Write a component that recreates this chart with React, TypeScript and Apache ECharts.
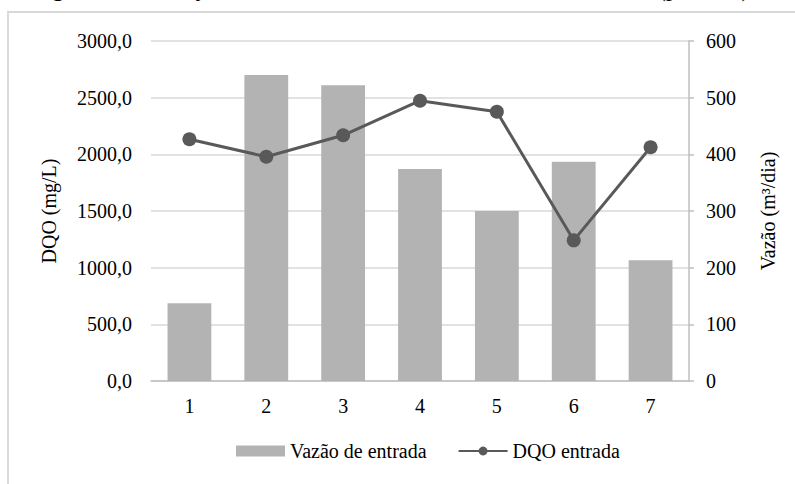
import React, { useEffect, useRef } from "react";
import * as echarts from "echarts";

// Sampling points along the system
const categories = ["1", "2", "3", "4", "5", "6", "7"];
// Inflow rate (m³/dia), right axis
const vazaoEntrada = [137, 540, 522, 374, 300, 387, 213];
// Inflow COD (mg/L), left axis
const dqoEntrada = [2133, 1979, 2168, 2473, 2376, 1241, 2062];

const captionText = "Figura 5 – Variação da vazão e da DQO de entrada no sistema (ponto 1)";
const FONT = "Liberation Serif";

export default function App() {
  const ref = useRef<HTMLDivElement>(null);

  useEffect(() => {
    if (!ref.current) return;
    const chart = echarts.init(ref.current, undefined, { renderer: "svg" });
    const textStyle = { fontFamily: FONT, fontSize: 20, color: "#000" };

    chart.setOption({
      animation: false,
      backgroundColor: "#fff",
      textStyle,
      graphic: [
        {
          type: "rect",
          silent: true,
          shape: { x: 8, y: 12, width: 900, height: 600 },
          style: { fill: "none", stroke: "#d9d9d9", lineWidth: 2 },
        },
        {
          type: "text",
          silent: true,
          x: 31,
          y: -12.5,
          style: {
            text: captionText,
            fontFamily: FONT,
            fontSize: 25,
            fill: "#000",
            verticalAlign: "middle",
          },
        },
      ],
      grid: { left: 151, right: 106, top: 41, bottom: 103, containLabel: false },
      legend: {
        left: 236,
        top: 441,
        padding: 0,
        itemWidth: 49,
        itemHeight: 11,
        itemGap: 31,
        textStyle: { ...textStyle },
        data: [
          { name: "Vazão de entrada", icon: "rect" },
          { name: "DQO entrada" },
        ],
      },
      xAxis: {
        type: "category",
        data: categories,
        axisLine: { lineStyle: { color: "#bfbfbf", width: 1.5 } },
        axisTick: { show: false },
        axisLabel: { ...textStyle, margin: 15 },
      },
      yAxis: [
        {
          type: "value",
          min: 0,
          max: 3000,
          interval: 500,
          name: "DQO (mg/L)",
          nameLocation: "middle",
          nameRotate: 90,
          nameGap: 92,
          nameTextStyle: { ...textStyle },
          axisLine: { show: false },
          axisTick: { show: false },
          axisLabel: {
            ...textStyle,
            margin: 19,
            formatter: (v: number) => v.toFixed(1).replace(".", ","),
          },
          splitLine: { lineStyle: { color: "#d9d9d9", width: 1.5 } },
        },
        {
          type: "value",
          min: 0,
          max: 600,
          interval: 100,
          position: "right",
          name: "Vazão (m³/dia)",
          nameLocation: "middle",
          nameRotate: 90,
          nameGap: 69,
          nameTextStyle: { ...textStyle },
          axisLine: { show: true, lineStyle: { color: "#bfbfbf", width: 1.5 } },
          axisTick: { show: true, length: 5, lineStyle: { color: "#bfbfbf", width: 1.5 } },
          axisLabel: { ...textStyle, margin: 17 },
          splitLine: { show: false },
        },
      ],
      series: [
        {
          name: "Vazão de entrada",
          type: "bar",
          yAxisIndex: 1,
          data: vazaoEntrada,
          barWidth: "57%",
          itemStyle: { color: "#b3b3b3" },
        },
        {
          name: "DQO entrada",
          type: "line",
          yAxisIndex: 0,
          data: dqoEntrada,
          symbol: "circle",
          symbolSize: 14,
          lineStyle: { color: "#595959", width: 3 },
          itemStyle: { color: "#595959" },
        },
      ],
    });

    return () => chart.dispose();
  }, []);

  return (
    <div
      ref={ref}
      style={{ position: "absolute", left: 0, top: 0, width: 795, height: 484 }}
    />
  );
}
